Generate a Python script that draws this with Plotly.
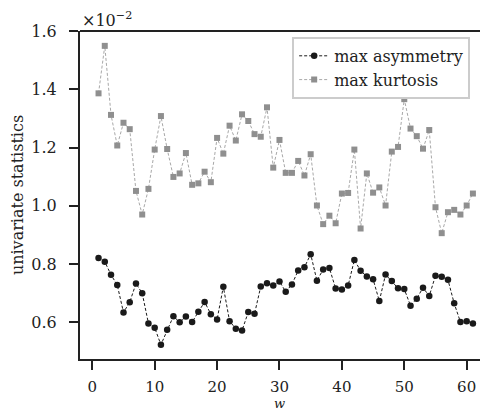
import plotly.graph_objects as go

w = list(range(1, 62))

max_asymmetry = [
    0.821, 0.808, 0.763, 0.728, 0.634, 0.669, 0.733, 0.700, 0.596, 0.581,
    0.523, 0.574, 0.621, 0.600, 0.620, 0.601, 0.636, 0.670, 0.628, 0.610,
    0.722, 0.604, 0.578, 0.572, 0.635, 0.629, 0.723, 0.734, 0.726, 0.740,
    0.705, 0.730, 0.778, 0.789, 0.834, 0.743, 0.781, 0.786, 0.716, 0.713,
    0.726, 0.814, 0.777, 0.757, 0.748, 0.673, 0.764, 0.742, 0.717, 0.714,
    0.657, 0.681, 0.719, 0.690, 0.760, 0.756, 0.746, 0.665, 0.601, 0.604,
    0.596,
]

max_kurtosis = [
    1.386, 1.549, 1.312, 1.207, 1.285, 1.263, 1.051, 0.970, 1.058, 1.193,
    1.308, 1.195, 1.099, 1.111, 1.181, 1.072, 1.077, 1.117, 1.081, 1.233,
    1.179, 1.275, 1.224, 1.314, 1.291, 1.246, 1.237, 1.338, 1.131, 1.226,
    1.113, 1.113, 1.154, 1.104, 1.177, 1.001, 0.937, 0.966, 0.940, 1.042,
    1.044, 1.193, 0.922, 1.111, 1.045, 1.063, 1.001, 1.186, 1.202, 1.366,
    1.265, 1.239, 1.196, 1.260, 0.995, 0.906, 0.978, 0.986, 0.970, 1.001,
    1.042,
]

x_ticks = [0, 10, 20, 30, 40, 50, 60]
y_ticks = [0.6, 0.8, 1.0, 1.2, 1.4, 1.6]
y_ticklabels = ["0.6", "0.8", "1.0", "1.2", "1.4", "1.6"]

FONT = "DejaVu Serif"

fig = go.Figure()
fig.add_trace(go.Scatter(
    x=w, y=max_asymmetry, name="max asymmetry", mode="lines+markers",
    line=dict(color="#1a1a1a", width=1, dash="3px,2px"),
    marker=dict(symbol="circle", size=6.5, color="#1a1a1a"),
))
fig.add_trace(go.Scatter(
    x=w, y=max_kurtosis, name="max kurtosis", mode="lines+markers",
    line=dict(color="#a8a8a8", width=1, dash="3px,2px"),
    marker=dict(symbol="square", size=6, color="#8f8f8f"),
))

# page body has an 8px margin, so the figure sits 8px right/down
fig.update_layout(
    width=488, height=413,
    margin=dict(l=72, r=0, t=23, b=62),
    plot_bgcolor="white", paper_bgcolor="white",
    font=dict(family=FONT, size=15, color="#222"),
    showlegend=True,
    legend=dict(
        x=0.51, y=0.982, xanchor="left", yanchor="top",
        bgcolor="white", bordercolor="#cccccc", borderwidth=2,
        font=dict(family=FONT, size=16), tracegroupgap=0,
        itemwidth=30,
    ),
    xaxis=dict(
        range=[-1.97, 64.7], tickvals=x_ticks, ticks="outside", ticklen=9,
        tickwidth=2, tickcolor="#222", showline=True, linewidth=2,
        linecolor="#222", mirror=False, showgrid=False, zeroline=False,
        automargin=False, ticklabelstandoff=4,
        tickfont=dict(family=FONT, size=15),
    ),
    yaxis=dict(
        range=[0.474, 1.6], tickvals=y_ticks, ticktext=y_ticklabels,
        ticks="outside", ticklen=9, tickwidth=2, tickcolor="#222",
        showline=True, linewidth=2, linecolor="#222", showgrid=False,
        zeroline=False, automargin=False, ticklabelstandoff=9,
        tickfont=dict(family=FONT, size=16),
        title=dict(text="univariate statistics", standoff=6,
                   font=dict(family=FONT, size=16)),
    ),
)

# top spine
fig.add_shape(type="line", xref="paper", yref="paper", x0=0, x1=1, y0=1, y1=1,
              line=dict(color="#222", width=2))

# x label
fig.add_annotation(text="<i>w</i>", xref="x", yref="paper", x=30, y=-0.137,
                   xanchor="center", yanchor="middle", showarrow=False,
                   font=dict(family=FONT, size=13))

fig.add_annotation(text="×10<sup>−2</sup>", xref="paper", yref="paper",
                   x=0.0, y=1.0, xanchor="left", yanchor="bottom", yshift=-1,
                   showarrow=False, font=dict(family=FONT, size=16))

fig.write_html("out.html")
